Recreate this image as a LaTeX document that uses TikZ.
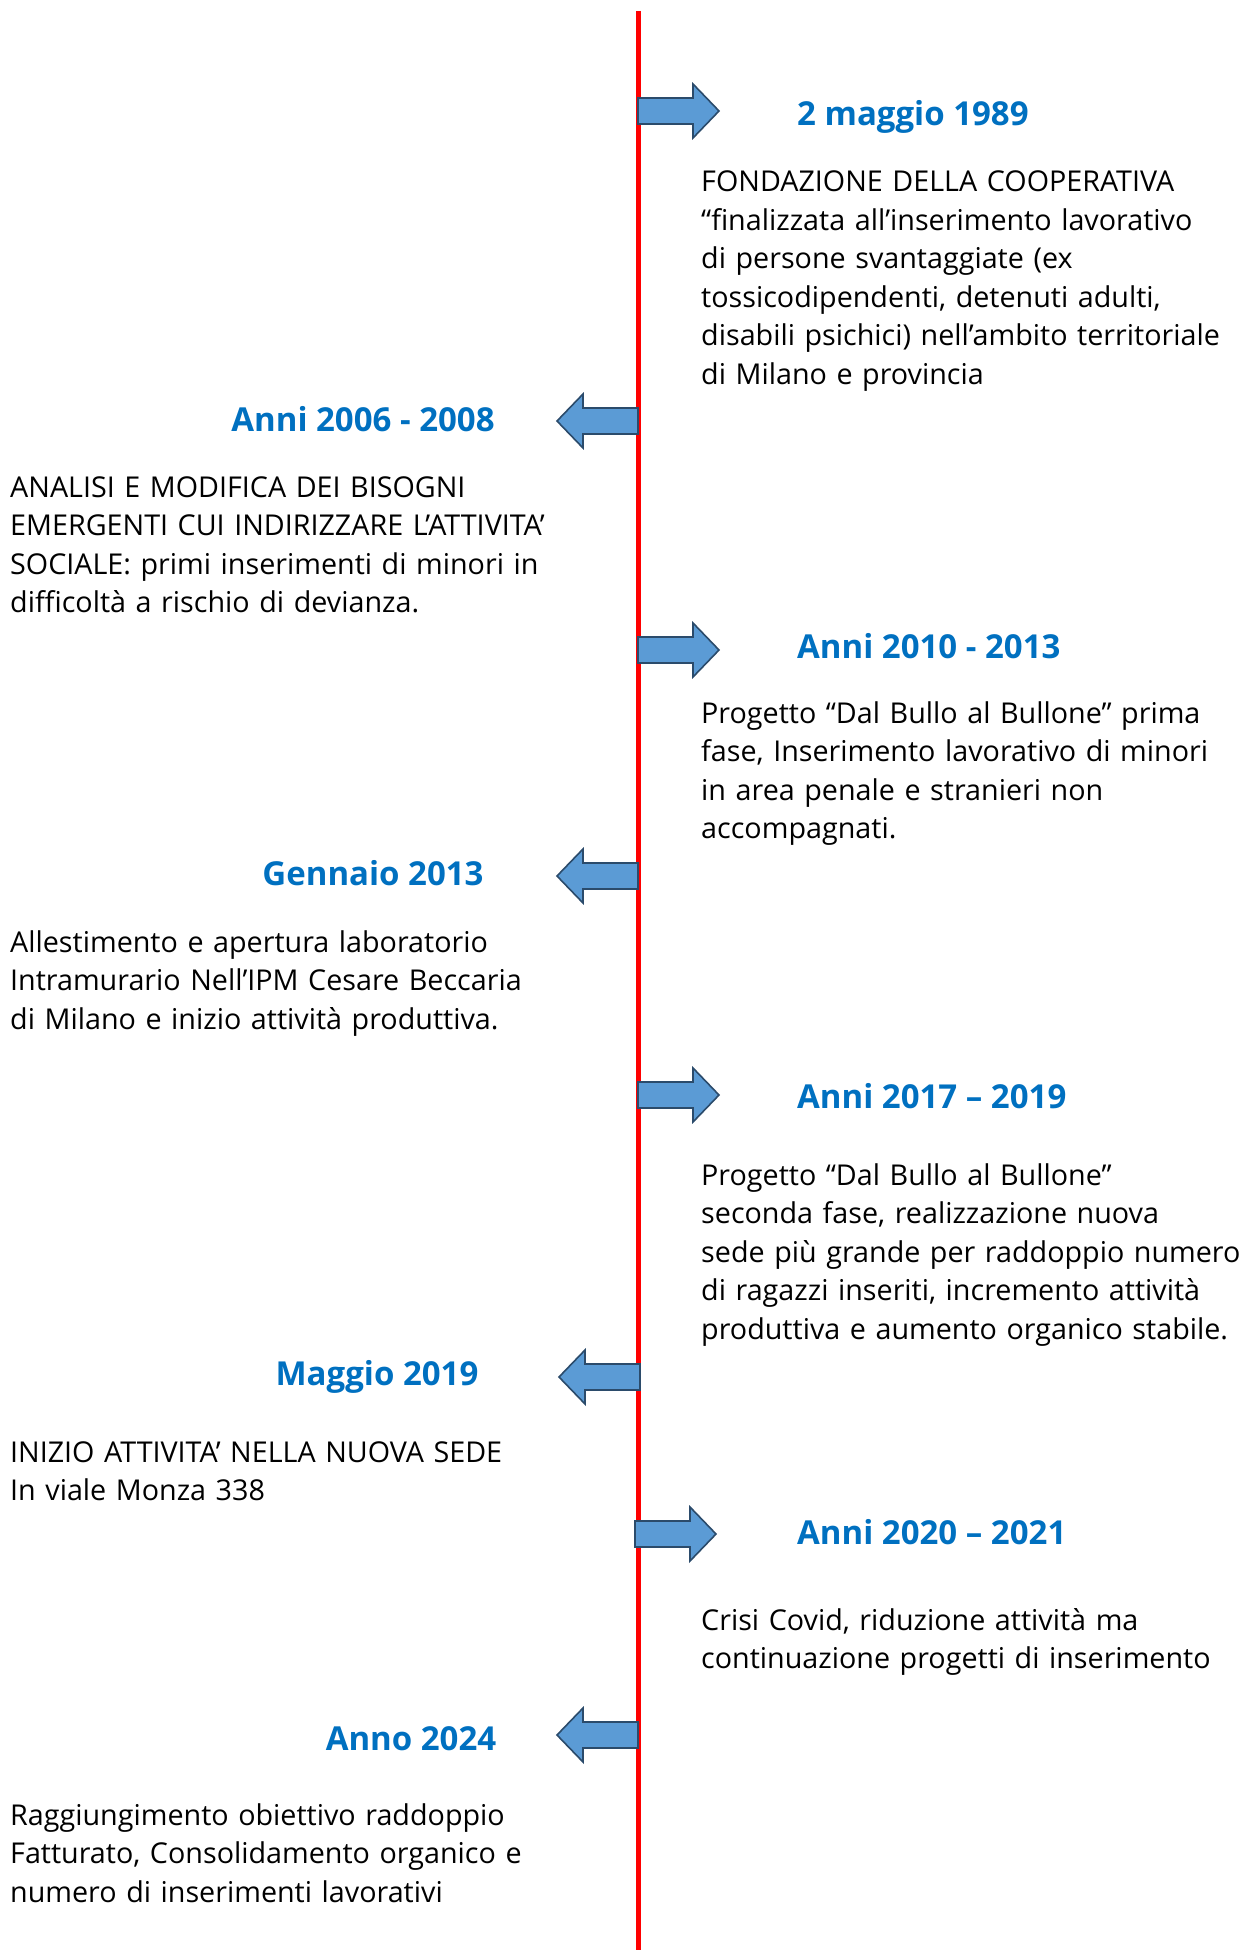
\documentclass[tikz,border=0pt]{standalone}
\usepackage{fontspec}
\setmainfont{Open Sans}
\usepackage{tikz}
\usetikzlibrary{positioning}
\definecolor{titleblue}{HTML}{0070C0}
\definecolor{arrowfill}{HTML}{5B9BD5}
\definecolor{arrowline}{HTML}{2B4B6B}

\begin{document}
\begin{tikzpicture}[line cap=round,line join=round,x=1pt,y=-1pt,
  datelabel/.style={font=\fontsize{33}{40}\selectfont\bfseries,text=titleblue,inner sep=0pt},
  bodytext/.style={font=\fontsize{28.7}{38.5}\selectfont,align=left,text width=600pt,inner sep=0pt,anchor=base west},
  blockarrow/.style={fill=arrowfill,draw=arrowline,line width=1.6pt,line join=miter}]
\useasboundingbox (0,0) rectangle (1246,1950);
% timeline
\draw[red,line width=5pt,line cap=butt] (638,11) -- (638,1950);
\foreach \xa/\yc/\s in {638/111/1,638/421/-1,638/650/1,638/876/-1,638/1095/1,640/1377/-1,635/1534/1,638/1735/-1}
\draw[blockarrow] (\xa,\yc) -- ++(0,-13) -- ++(55*\s,0) -- ++(0,-14) -- ++(26*\s,27) -- ++(-26*\s,27) -- ++(0,-14) -- ++(-55*\s,0) -- cycle;
% dates
\node[datelabel,anchor=base west] (d1989) at (797,126) {2 maggio 1989};
\node[datelabel,anchor=base] (d2006) at (363,431) {Anni 2006 - 2008};
\node[datelabel,anchor=base west] (d2010) at (797,658) {Anni 2010 - 2013};
\node[datelabel,anchor=base] (d2013) at (373,885) {Gennaio 2013};
\node[datelabel,anchor=base west] (d2017) at (797,1108) {Anni 2017 – 2019};
\node[datelabel,anchor=base] (d2019) at (377,1385) {Maggio 2019};
\node[datelabel,anchor=base west] (d2020) at (797,1544) {Anni 2020 – 2021};
\node[datelabel,anchor=base] (d2024) at (411,1750) {Anno 2024};
% descriptions
\node[bodytext] (t1989) at (701,192) {FONDAZIONE DELLA COOPERATIVA\\“finalizzata all’inserimento lavorativo\\di persone svantaggiate (ex\\tossicodipendenti, detenuti adulti,\\disabili psichici) nell’ambito territoriale\\di Milano e provincia};
\node[bodytext] (t2006) at (10,497) {ANALISI E MODIFICA DEI BISOGNI\\EMERGENTI CUI INDIRIZZARE L’ATTIVITA’\\SOCIALE: primi inserimenti di minori in\\difficoltà a rischio di devianza.};
\node[bodytext] (t2010) at (701,723) {Progetto “Dal Bullo al Bullone” prima\\fase, Inserimento lavorativo di minori\\in area penale e stranieri non\\accompagnati.};
\node[bodytext] (t2013) at (10,952) {Allestimento e apertura laboratorio\\Intramurario Nell’IPM Cesare Beccaria\\di Milano e inizio attività produttiva.};
\node[bodytext] (t2017) at (701,1185) {Progetto “Dal Bullo al Bullone”\\seconda fase, realizzazione nuova\\sede più grande per raddoppio numero\\di ragazzi inseriti, incremento attività\\produttiva e aumento organico stabile.};
\node[bodytext] (t2019) at (10,1462) {INIZIO ATTIVITA’ NELLA NUOVA SEDE\\In viale Monza 338};
\node[bodytext] (t2020) at (701,1630) {Crisi Covid, riduzione attività ma\\continuazione progetti di inserimento};
\node[bodytext] (t2024) at (10,1825) {Raggiungimento obiettivo raddoppio\\Fatturato, Consolidamento organico e\\numero di inserimenti lavorativi};
\end{tikzpicture}
\end{document}
